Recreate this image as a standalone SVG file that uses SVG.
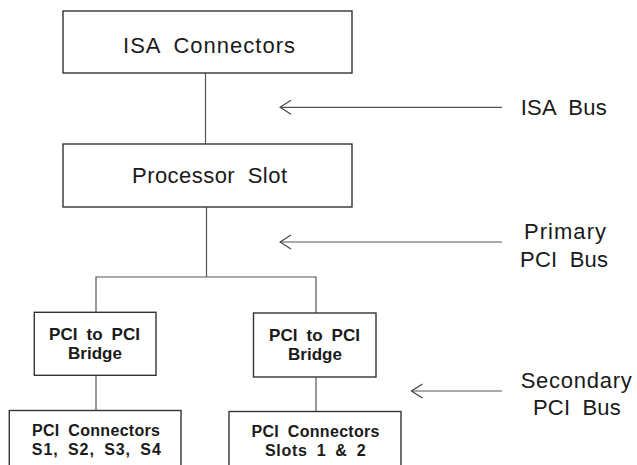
<svg xmlns="http://www.w3.org/2000/svg" width="637" height="465" viewBox="0 0 637 465">
<style>
.box{fill:#fff;stroke:#333;stroke-width:1.4}
.ln{fill:none;stroke:#555;stroke-width:1.2}
.t{font-family:"Liberation Sans",Arial,sans-serif;font-size:22px;fill:#1a1a1a;text-anchor:middle;word-spacing:6px}
.b{font-family:"Liberation Sans",Arial,sans-serif;font-size:17px;font-weight:bold;fill:#1a1a1a;text-anchor:middle;word-spacing:4px}
.s{font-size:16px}
.lbl{font-family:"Liberation Sans",Arial,sans-serif;font-size:22px;fill:#1a1a1a;word-spacing:6px}
</style>
<defs>
<marker id="chev" markerUnits="userSpaceOnUse" markerWidth="13" markerHeight="16" viewBox="-1 -1 13 16" refX="0" refY="7" orient="auto">
<path d="M11,0 L0,7 L11,14" fill="none" stroke="#444" stroke-width="1.2"/>
</marker>
</defs>
<rect width="637" height="465" fill="#fff"/>
<g id="connectors">
<line class="ln" x1="205.5" y1="73" x2="205.5" y2="144"/>
<line class="ln" x1="206.5" y1="207" x2="206.5" y2="277"/>
<polyline class="ln" points="96,312 96,277 316,277 316,313"/>
<line class="ln" x1="96" y1="375" x2="96" y2="410"/>
<line class="ln" x1="316" y1="377" x2="316" y2="411"/>
<line class="ln" x1="280" y1="107.3" x2="502" y2="107.3" marker-start="url(#chev)"/>
<line class="ln" x1="280" y1="242" x2="502" y2="242" marker-start="url(#chev)"/>
<line class="ln" x1="411.5" y1="391" x2="502" y2="391" marker-start="url(#chev)"/>
</g>
<g id="isa-connectors">
<rect class="box" x="63" y="11" width="289" height="62"/>
<text class="t" x="209" y="52.7" textLength="172">ISA Connectors</text>
</g>
<g id="processor-slot">
<rect class="box" x="63" y="144" width="289" height="63"/>
<text class="t" x="209.5" y="182.7" textLength="155">Processor Slot</text>
</g>
<g id="bridge-1">
<rect class="box" x="34.3" y="312.3" width="121.7" height="63"/>
<text class="b" x="94.5" y="340" textLength="91">PCI to PCI</text>
<text class="b" x="95" y="359.3">Bridge</text>
</g>
<g id="bridge-2">
<rect class="box" x="253.5" y="313" width="122.5" height="64"/>
<text class="b" x="314.5" y="341" textLength="91">PCI to PCI</text>
<text class="b" x="315" y="360.3">Bridge</text>
</g>
<g id="pci-connectors-1">
<rect class="box" x="9.3" y="410.5" width="171.7" height="70"/>
<text class="b s" x="96" y="436" textLength="128">PCI Connectors</text>
<text class="b s" x="96.3" y="455" textLength="129">S1, S2, S3, S4</text>
</g>
<g id="pci-connectors-2">
<rect class="box" x="229" y="411.5" width="172" height="70"/>
<text class="b s" x="315.5" y="436.5" textLength="128">PCI Connectors</text>
<text class="b s" x="315.3" y="455.5" textLength="100.7">Slots 1 &amp; 2</text>
</g>
<g id="bus-labels">
<text class="lbl" x="520.7" y="115" textLength="86">ISA Bus</text>
<text class="lbl" x="524" y="239.3" textLength="82">Primary</text>
<text class="lbl" x="520" y="266.7" textLength="88">PCI Bus</text>
<text class="lbl" x="520.7" y="387.7" textLength="111">Secondary</text>
<text class="lbl" x="533" y="415" textLength="87.7">PCI Bus</text>
</g>
</svg>
